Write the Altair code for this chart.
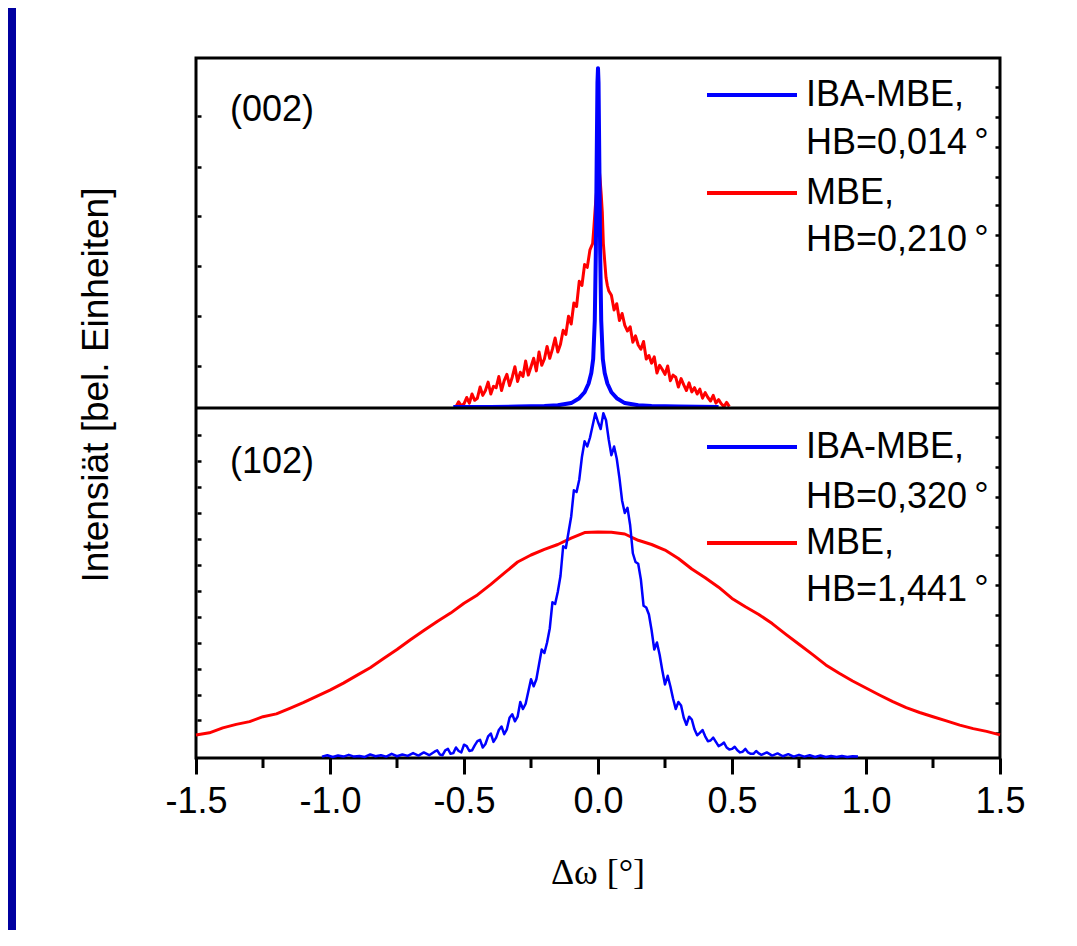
import altair as alt
import pandas as pd

# ---------------- data ----------------
# upper panel (002): intensities as fraction of panel height
top_blue_x = [-0.54, -0.40, -0.30, -0.20, -0.15, -0.10, -0.07, -0.05, -0.035, -0.025, -0.018, -0.012,
              -0.008, -0.005, -0.002, 0.0, 0.002, 0.005, 0.008, 0.012, 0.018, 0.025, 0.035, 0.05,
              0.07, 0.10, 0.15, 0.20, 0.30, 0.45]
top_blue_y = [0.003, 0.003, 0.004, 0.006, 0.008, 0.014, 0.028, 0.045, 0.070, 0.100, 0.140, 0.250,
              0.450, 0.700, 0.930, 0.971, 0.930, 0.700, 0.450, 0.250, 0.140, 0.100, 0.070, 0.045,
              0.028, 0.014, 0.008, 0.006, 0.004, 0.003]

top_red_x = [-0.53, -0.52, -0.51, -0.50, -0.49, -0.48, -0.47, -0.46, -0.45, -0.44, -0.43, -0.42,
             -0.41, -0.40, -0.39, -0.38, -0.37, -0.36, -0.35, -0.34, -0.33, -0.32, -0.31, -0.30,
             -0.29, -0.28, -0.27, -0.26, -0.25, -0.24, -0.23, -0.22, -0.21, -0.20, -0.19, -0.18,
             -0.17, -0.16, -0.15, -0.14, -0.13, -0.12, -0.11, -0.10, -0.09, -0.08, -0.07, -0.06,
             -0.05, -0.04, -0.03, -0.02,
             -0.015, -0.01, -0.005, 0.0, 0.004, 0.008, 0.012, 0.016, 0.02, 0.025, 0.03, 0.035, 0.04,
             0.05, 0.06, 0.07, 0.08, 0.09, 0.10, 0.11, 0.12, 0.13, 0.14, 0.15, 0.16, 0.17, 0.18,
             0.19, 0.20, 0.21, 0.22, 0.23, 0.24, 0.25, 0.26, 0.27, 0.28, 0.29, 0.30, 0.31, 0.32,
             0.33, 0.34, 0.35, 0.36, 0.37, 0.38, 0.39, 0.40, 0.41, 0.42, 0.43, 0.44, 0.45, 0.46,
             0.47, 0.48, 0.49]
top_red_y = [0.004, 0.018, 0.006, 0.012, 0.030, 0.014, 0.040, 0.022, 0.028, 0.060,
             0.036, 0.050, 0.074, 0.040, 0.062, 0.058, 0.090, 0.050, 0.078, 0.096,
             0.064, 0.088, 0.118, 0.076, 0.102, 0.090, 0.134, 0.094, 0.118, 0.142,
             0.106, 0.160, 0.122, 0.140, 0.176, 0.142, 0.168, 0.200, 0.160, 0.182,
             0.222, 0.210, 0.262, 0.240, 0.300, 0.290, 0.362, 0.350, 0.410, 0.402,
             0.452, 0.470,
             0.520, 0.575, 0.622, 0.662, 0.686, 0.652, 0.610, 0.560, 0.470, 0.420, 0.372, 0.350, 0.335,
             0.322, 0.280, 0.298, 0.250, 0.270, 0.236, 0.220, 0.232, 0.188, 0.206,
             0.180, 0.168, 0.190, 0.140, 0.150, 0.128, 0.146, 0.100, 0.122, 0.110,
             0.096, 0.120, 0.078, 0.094, 0.088, 0.060, 0.084, 0.066, 0.050, 0.072,
             0.046, 0.058, 0.040, 0.054, 0.028, 0.044, 0.030, 0.020, 0.036, 0.014,
             0.024, 0.012, 0.004, 0.016, 0.004]

# lower panel (102)
bot_blue_x = [-1.03, -1.01, -0.99, -0.97, -0.95, -0.93, -0.91, -0.89, -0.87, -0.85, -0.83, -0.81,
              -0.79, -0.77, -0.75, -0.73, -0.71, -0.69, -0.67, -0.65, -0.63, -0.61, -0.59, -0.57,
              -0.55, -0.53, -0.51, -0.49, -0.47, -0.45, -0.43, -0.41, -0.39, -0.37, -0.35, -0.33,
              -0.31, -0.29, -0.27, -0.25, -0.23, -0.21, -0.19, -0.17, -0.15, -0.13, -0.11, -0.09,
              -0.07, -0.05, -0.03, -0.01, 0.01, 0.03, 0.05, 0.07, 0.09, 0.11, 0.13, 0.15, 0.17,
              0.19, 0.21, 0.23, 0.25, 0.27, 0.29, 0.31, 0.33, 0.35, 0.37, 0.39, 0.41, 0.43, 0.45,
              0.47, 0.49, 0.51, 0.53, 0.55, 0.57, 0.59, 0.61, 0.63, 0.65, 0.67, 0.69, 0.71, 0.73,
              0.75, 0.77, 0.79, 0.81, 0.83, 0.85, 0.87, 0.89, 0.91, 0.93, 0.95, 0.97]
bot_blue_y = [0.004, 0.008, 0.003, 0.007, 0.004, 0.009, 0.004, 0.006, 0.003, 0.010, 0.005, 0.008,
              0.004, 0.012, 0.005, 0.010, 0.006, 0.014, 0.007, 0.016, 0.008, 0.018, 0.010, 0.022,
              0.012, 0.030, 0.016, 0.034, 0.022, 0.048, 0.030, 0.062, 0.046, 0.080, 0.068, 0.115,
              0.105, 0.160, 0.155, 0.225, 0.225, 0.310, 0.330, 0.445, 0.475, 0.605, 0.645, 0.765,
              0.795, 0.905, 0.915, 0.985, 0.940, 0.965, 0.865, 0.855, 0.735, 0.715, 0.585, 0.555, 0.435,
              0.410, 0.310, 0.295, 0.210, 0.205, 0.140, 0.150, 0.095, 0.110, 0.065, 0.080, 0.048, 0.058, 0.034,
              0.044, 0.024, 0.032, 0.016, 0.026, 0.012, 0.020, 0.009, 0.016, 0.007, 0.013, 0.005, 0.011, 0.004,
              0.009, 0.004, 0.008, 0.003, 0.007, 0.003, 0.006, 0.003, 0.006, 0.003, 0.005, 0.004]
# extra readings in the central part of the lower blue scan
bot_blue_x2 = [-0.60, -0.58, -0.56, -0.54, -0.52, -0.50, -0.48, -0.46, -0.44, -0.42, -0.40, -0.38,
               -0.36, -0.34, -0.32, -0.30, -0.28, -0.26, -0.24, -0.22, -0.20, -0.18, -0.16, -0.14,
               -0.12, -0.10, -0.08, -0.06, -0.04, -0.02, 0.00, 0.02, 0.04, 0.06, 0.08, 0.10, 0.12,
               0.14, 0.16, 0.18, 0.20, 0.22, 0.24, 0.26, 0.28, 0.30, 0.32, 0.34, 0.36, 0.38, 0.40,
               0.42, 0.44, 0.46, 0.48, 0.50, 0.52, 0.54, 0.56, 0.58, 0.60]
bot_blue_y2 = [0.022, 0.008, 0.026, 0.014, 0.020, 0.038, 0.020, 0.036, 0.052, 0.040, 0.070, 0.058,
               0.090, 0.082, 0.125, 0.118, 0.140, 0.190, 0.205, 0.268, 0.300, 0.370, 0.440, 0.520,
               0.600, 0.690, 0.760, 0.860, 0.890, 0.950, 0.960, 0.985, 0.910, 0.890, 0.800, 0.700, 0.665,
               0.560, 0.510, 0.430, 0.365, 0.330, 0.250, 0.235, 0.170, 0.160, 0.115, 0.118, 0.082, 0.072, 0.062,
               0.050, 0.046, 0.038, 0.030, 0.026, 0.022, 0.018, 0.016, 0.012, 0.013]

bot_red_x = [-1.50, -1.45, -1.40, -1.35, -1.30, -1.25, -1.20, -1.15, -1.10, -1.05, -1.00, -0.95,
             -0.90, -0.85, -0.80, -0.75, -0.70, -0.65, -0.60, -0.55, -0.50, -0.45, -0.40, -0.35,
             -0.30, -0.25, -0.20, -0.15, -0.10, -0.05, 0.00, 0.05, 0.10, 0.15, 0.20, 0.25, 0.30,
             0.35, 0.40, 0.45, 0.50, 0.55, 0.60, 0.65, 0.70, 0.75, 0.80, 0.85, 0.90, 0.95, 1.00,
             1.05, 1.10, 1.15, 1.20, 1.25, 1.30, 1.35, 1.40, 1.45, 1.50]
bot_red_y = [0.066, 0.072, 0.086, 0.096, 0.104, 0.118, 0.126, 0.142, 0.158, 0.176, 0.194, 0.214,
             0.236, 0.258, 0.284, 0.310, 0.338, 0.364, 0.390, 0.414, 0.442, 0.466, 0.496, 0.528,
             0.560, 0.580, 0.596, 0.610, 0.628, 0.644, 0.646, 0.645, 0.640, 0.622, 0.610, 0.594, 0.570,
             0.540, 0.515, 0.488, 0.456, 0.432, 0.410, 0.384, 0.354, 0.325, 0.296, 0.266, 0.242, 0.220, 0.200,
             0.180, 0.161, 0.144, 0.130, 0.118, 0.106, 0.094, 0.084, 0.076, 0.066]

# tick values (lower panel 0..1, upper panel 1..2)
x_ticks = [-1.5, -1.0, -0.5, 0.0, 0.5, 1.0, 1.5]
x_minor_ticks = [-1.25, -0.75, -0.25, 0.25, 0.75, 1.25]
left_ticks = [0.109, 0.180, 0.254, 0.329, 0.403, 0.477, 0.551, 0.626, 0.700, 0.774, 0.849, 0.923,
              1.119, 1.262, 1.405, 1.548, 1.690, 1.833]
right_ticks = [0.071, 0.157, 0.237, 0.323, 0.409, 0.494, 0.580, 0.660, 0.746, 0.831, 0.917,
               1.071, 1.157, 1.237, 1.323, 1.409, 1.494, 1.580, 1.660, 1.746, 1.831, 1.917]

panel_labels = ["(002)", "(102)"]
legend_names = ["IBA-MBE,", "MBE,"]
legend_hb_top = ["HB=0,014\u2009°", "HB=0,210\u2009°"]
legend_hb_bottom = ["HB=0,320\u2009°", "HB=1,441\u2009°"]
x_title = "Δω [°]"
y_title = "Intensiät [bel. Einheiten]"
BLUE = "#0000FF"
RED = "#FF0000"

# ---------------- chart ----------------
W, H = 804, 700
FONT = "Liberation Sans"
xscale = alt.Scale(domain=[-1.5, 1.5], nice=False, zero=False)
yscale = alt.Scale(domain=[0, 2], nice=False, zero=False)
one = pd.DataFrame({"a": [0]})

xaxis = alt.Axis(
    values=x_ticks,
    labelExpr="replace(format(datum.value, '.1f'), '\u2212', '-')",
    tickSize=16, tickWidth=3, tickColor="black", domain=False, grid=False,
    labelFont=FONT, labelFontSize=36, labelColor="black", labelPadding=10,
    labelFlush=False, labelOverlap=False, title=None,
)
yaxis_left = alt.Axis(orient="left", values=left_ticks, labels=False, tickSize=4, tickWidth=2.5,
                      tickColor="black", domain=False, grid=False, title=None, offset=-5)
yaxis_right = alt.Axis(orient="right", values=right_ticks, labels=False, tickSize=4, tickWidth=2.5,
                       tickColor="black", domain=False, grid=False, title=None, offset=-5)


def curve(xs, ys, offset, color, width, yax=None):
    d = pd.DataFrame({"x": xs, "y": ys})
    return (
        alt.Chart(d)
        .transform_calculate(yp=f"datum.y + {offset}")
        .mark_line(color=color, strokeWidth=width, strokeJoin="round")
        .encode(
            x=alt.X("x:Q", scale=xscale, axis=xaxis),
            y=alt.Y("yp:Q", scale=yscale, axis=yax),
        )
    )


def text(t, x, y, **kw):
    props = dict(text=t, align="left", baseline="middle", font=FONT, fontSize=36, color="black")
    props.update(kw)
    return alt.Chart(one).mark_text(**props).encode(x=alt.value(x), y=alt.value(y))


def sample(color, y):
    return alt.Chart(one).mark_rule(color=color, strokeWidth=4).encode(
        x=alt.value(511), x2=alt.value(601), y=alt.value(y))


strip = alt.Chart(one).mark_rect(color="#0000A0").encode(
    x=alt.value(-188), x2=alt.value(-180), y=alt.value(-50), y2=alt.value(872))

minor = alt.Chart(pd.DataFrame({"v": x_minor_ticks})).mark_rule(color="black", strokeWidth=3).encode(
    x=alt.X("v:Q", scale=xscale, axis=xaxis), y=alt.value(H), y2=alt.value(H + 10))

layers = [
    strip,
    curve(bot_red_x, bot_red_y, 0, RED, 3, yax=yaxis_left),
    curve(bot_blue_x + bot_blue_x2, bot_blue_y + bot_blue_y2, 0, BLUE, 2.5, yax=yaxis_right),
    curve(top_red_x, top_red_y, 1, RED, 3),
    curve(top_blue_x, top_blue_y, 1, BLUE, 4),
    alt.Chart(pd.DataFrame({"y": [1.0]})).mark_rule(color="black", strokeWidth=3).encode(
        y=alt.Y("y:Q", scale=yscale, axis=None)),
    minor,
    sample(BLUE, 37), sample(RED, 135), sample(BLUE, 389), sample(RED, 485),
    text(legend_names[0], 610, 37), text(legend_hb_top[0], 610, 85),
    text(legend_names[1], 610, 135), text(legend_hb_top[1], 610, 182),
    text(legend_names[0], 610, 389), text(legend_hb_bottom[0], 610, 439),
    text(legend_names[1], 610, 485), text(legend_hb_bottom[1], 610, 532),
    text(panel_labels[0], 34, 52), text(panel_labels[1], 34, 404),
    text(y_title, -99, 327, angle=270, align="center", fontSize=37),
    text(x_title, 402, 815, align="center", font="Liberation Serif"),
]

chart = (
    alt.layer(*layers)
    .resolve_scale(y="shared", x="shared")
    .resolve_axis(y="independent")
    .properties(width=W, height=H, padding=0, background="white")
    .configure_view(stroke="black", strokeWidth=3)
)

chart.save("out.html", embed_options={"renderer": "svg", "actions": False})
